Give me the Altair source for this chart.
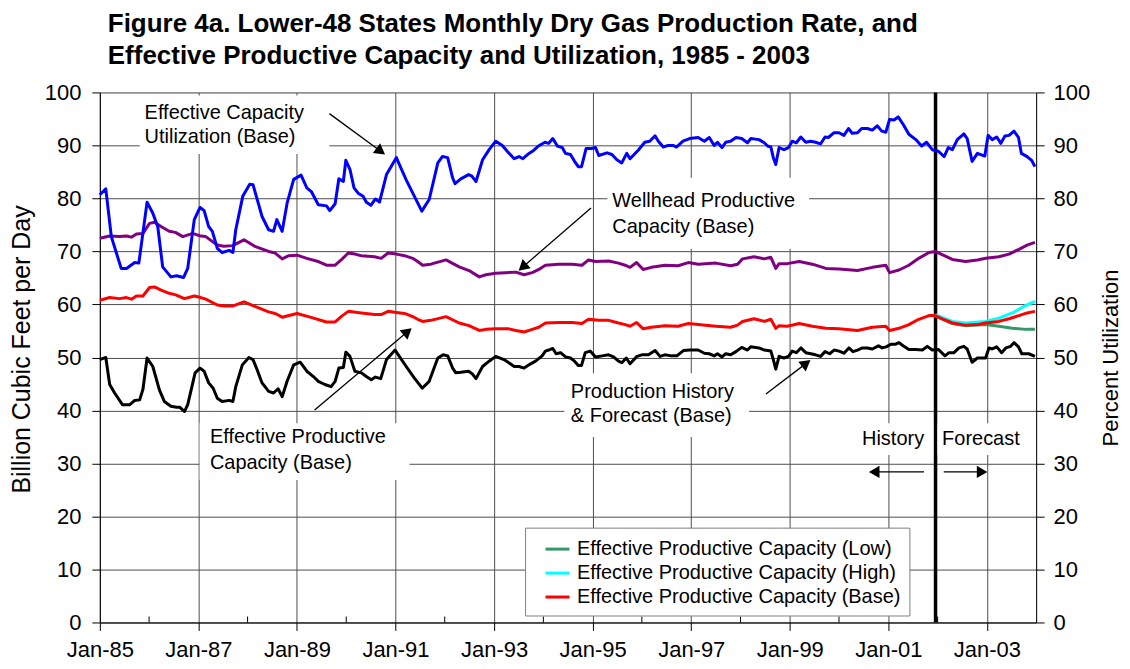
import math
import altair as alt
import pandas as pd

# ---------------------------------------------------------------------------
# Data: month offset from Jan-1985 (m) and value
# ---------------------------------------------------------------------------
UTIL_M = [0, 1.45, 2.8, 5.2, 6.5, 8.5, 9.5, 11.5, 12.9, 14.1, 15.3, 17.3, 18.7, 20.4, 21.4, 23.0,
          24.4, 25.4, 26.5, 27.4, 28.6, 29.8, 31.5, 32.4, 33.1, 34.8, 36.5, 37.3, 39.5, 41.1, 42.3,
          43.1, 44.4, 45.6, 47.2, 49.0, 50.4, 51.5, 53.2, 55.2, 56.0, 57.3, 58.2, 59.3, 59.9, 60.9,
          61.9, 62.9, 64.1, 64.9, 66.0, 67.1, 68.1, 69.8, 72.2, 74.6, 76.6, 78.4, 80.2, 82.3, 83.4,
          84.7, 85.9, 86.5, 87.9, 89.8, 90.6, 91.6, 93.2, 94.8, 96.4, 98.0, 99.2, 100.9, 102.1, 103.0,
          104.5, 105.7, 106.8, 108.4, 109.3, 110.3, 111.4, 112.6, 113.4, 114.6, 115.6, 116.5, 117.3,
          118.4, 119.7, 120.7, 121.5, 123.5, 124.7, 125.9, 127.1, 128.3, 129.1, 131.1, 132.7, 133.9,
          135.2, 136.0, 137.2, 138.4, 139.6, 140.4, 142.0, 143.6, 145.7, 147.2, 148.4, 149.6, 150.4,
          151.5, 152.4, 153.6, 154.9, 156.3, 157.7, 158.5, 160.5, 161.8, 162.6, 163.4, 164.0, 164.6,
          165.4, 166.6, 167.7, 168.6, 169.6, 170.7, 171.9, 173.1, 174.3, 175.5, 176.6, 177.4, 178.8,
          180.0, 181.2, 182.3, 183.2, 184.5, 185.5, 186.9, 188.1, 189.3, 190.4, 191.4, 192.3, 193.4,
          194.4, 195.6, 197.0, 198.7, 200.1, 201.3, 202.7, 204.2, 205.6, 206.6, 207.6, 208.8, 210.4,
          211.2, 212.4, 213.7, 215.5, 216.3, 217.3, 218.4, 219.4, 220.4, 221.4, 222.6, 223.7, 224.4,
          225.8, 226.9, 227.7]
UTIL_V = [80.7, 81.8, 72.8, 66.8, 66.8, 67.9, 67.8, 79.3, 77.2, 74.7, 67.1, 65.2, 65.4, 65.1, 66.8, 76.0,
          78.3, 77.7, 74.7, 73.8, 70.6, 69.8, 70.2, 69.8, 74.1, 80.4, 82.7, 82.6, 76.6, 74.1, 73.8,
          76.0, 73.8, 79.1, 83.6, 84.4, 82.0, 81.3, 78.8, 78.6, 77.7, 79.0, 83.7, 83.2, 87.2, 85.5,
          82.0, 81.0, 80.4, 79.3, 78.7, 79.9, 79.3, 84.5, 87.7, 83.5, 80.4, 77.6, 79.8, 86.7, 87.9,
          87.7, 83.9, 82.8, 83.7, 84.5, 84.2, 83.2, 87.3, 89.2, 90.8, 90.0, 88.9, 87.5, 87.9, 87.5,
          88.5, 89.1, 89.9, 90.6, 90.4, 91.3, 89.9, 89.6, 88.5, 88.3, 87.0, 86.0, 86.0,
          89.4, 89.4, 89.6, 88.1, 88.6, 88.3, 87.3, 86.7, 88.5, 87.5, 89.1, 90.6, 90.8,
          91.8, 90.8, 89.7, 90.0, 90.0, 89.7, 90.8, 91.3, 91.5, 90.8, 91.5, 90.0, 90.6,
          89.6, 90.6, 90.8, 91.5, 91.3, 90.5, 91.3, 91.1, 90.5, 89.9, 89.7, 87.7, 86.4,
          89.6, 89.2, 89.6, 90.8, 90.5, 91.6, 90.6, 90.8, 90.6, 90.3, 91.6, 91.5, 92.4,
          92.4, 91.9, 93.2, 92.3, 92.4, 93.2, 93.2, 92.9, 93.7, 92.7, 92.5, 94.9, 94.8,
          95.4, 94.0, 92.1, 91.1, 89.9, 90.6, 89.2, 88.9, 87.9, 89.6, 89.2, 91.1, 92.2,
          91.3, 87.0, 88.5, 88.0, 91.9, 91.1, 91.6, 90.4, 91.8, 91.9, 92.7, 91.5, 88.5,
          87.9, 87.2, 86.0]

WELL_M = [0, 2.4, 4.8, 6.5, 7.7, 8.9, 10.5, 12.1, 13.3, 14.9, 16.9, 18.4, 20.2, 22.6, 24.6, 25.8,
          28.6, 30.2, 32.3, 35.1, 37.9, 41.1, 42.7, 44.4, 46.0, 48.0, 50.4, 53.2, 55.2, 57.3, 58.9,
          60.5, 62.1, 63.7, 66.9, 68.5, 70.2, 72.2, 74.2, 76.2, 77.4, 78.6, 80.6, 84.3, 87.5, 89.9,
          92.4, 94.0, 96.4, 98.8, 101.3, 103.3, 105.3, 106.9, 108.5, 111.8, 115.0, 117.4, 119.0,
          120.7, 123.9, 126.3, 127.9, 129.1, 130.7, 132.3, 134.3, 137.6, 140.8, 143.3, 145.7, 150.0,
          153.6, 155.3, 156.5, 159.3, 161.8, 163.4, 164.6, 165.4, 167.4, 170.3, 173.5, 176.8, 180.0,
          184.5, 188.1, 191.4, 192.3, 194.6, 197.0, 199.4, 201.9, 203.4, 205.1, 207.6, 210.8, 213.7,
          215.7, 218.9, 221.4, 223.8, 225.8, 227.7]
WELL_V = [72.5, 72.9, 72.8, 72.9, 72.7, 73.3, 73.4, 75.3, 75.5, 74.7, 73.8, 73.6, 72.8, 73.4, 72.9, 72.8,
          71.2, 71.0, 71.1, 72.2, 70.9, 70.0, 69.7, 68.6, 69.2, 69.3, 68.7, 68.1, 67.4, 67.4, 68.5,
          69.7, 69.5, 69.2, 69.0, 68.7, 69.7, 69.5, 69.2, 68.7, 68.1, 67.4, 67.6, 68.4, 67.1, 66.4,
          65.2, 65.6, 65.9, 66.0, 66.1, 65.6, 66.0, 66.6, 67.4, 67.6, 67.6, 67.4, 68.4,
          68.1, 68.2, 67.8, 67.4, 67.0, 67.9, 66.6, 67.0, 67.4, 67.3, 67.9, 67.6, 67.8,
          67.3, 67.6, 68.6, 69.0, 68.6, 68.9, 66.8, 67.7, 67.7, 68.1, 67.6, 66.8, 66.7,
          66.4, 67.0, 67.4, 66.0, 66.5, 67.4, 68.7, 69.8, 70.0, 69.4, 68.5, 68.1, 68.4,
          68.7, 69.0, 69.5, 70.4, 71.2, 71.7]

BASE_M = [0, 2.4, 4.8, 6.5, 7.7, 8.9, 10.5, 12.1, 13.3, 14.9, 16.9, 18.5, 20.6, 23.0, 24.6, 25.8,
          28.6, 30.2, 32.3, 35.1, 37.9, 41.1, 42.7, 44.4, 48.0, 50.8, 55.2, 57.3, 58.9, 60.5, 63.7,
          66.9, 68.5, 70.2, 72.2, 74.2, 76.2, 77.4, 78.6, 80.6, 84.3, 87.5, 89.9, 92.4, 94.0, 96.4,
          99.6, 101.3, 103.3, 105.3, 106.9, 108.5, 111.8, 115.0, 117.4, 119.0, 121.5, 123.9, 126.3,
          127.9, 129.1, 130.7, 132.3, 134.3, 137.6, 140.8, 143.3, 145.7, 150.0, 153.6, 155.3, 156.5,
          159.3, 161.8, 163.4, 164.6, 165.4, 167.4, 170.3, 173.5, 176.8, 180.0, 184.5, 188.1, 191.4,
          192.3, 194.6, 197.0, 199.4, 201.9, 203.4, 205.1, 207.6, 210.8, 213.7, 215.7, 218.9, 221.4,
          223.8, 225.8, 227.7]
BASE_V = [60.8, 61.3, 61.1, 61.3, 61.0, 61.6, 61.6, 63.2, 63.3, 62.7, 62.1, 61.8, 61.1, 61.6, 61.3, 61.0,
          59.9, 59.7, 59.7, 60.5, 59.6, 58.6, 58.3, 57.6, 58.3, 57.7, 56.7, 56.7, 57.8, 58.7, 58.4,
          58.1, 58.1, 58.7, 58.5, 58.3, 57.7, 57.2, 56.8, 57.0, 57.7, 56.5, 56.0, 55.1, 55.3, 55.4,
          55.4, 55.1, 54.8, 55.3, 55.7, 56.5, 56.6, 56.6, 56.4, 57.2, 57.0, 57.0, 56.5,
          56.2, 55.9, 56.6, 55.4, 55.7, 56.0, 55.9, 56.4, 56.2, 55.9, 55.7, 56.1, 56.8,
          57.3, 56.8, 57.2, 55.5, 56.0, 55.9, 56.4, 55.9, 55.5, 55.4, 55.1, 55.7, 55.9,
          55.1, 55.5, 56.2, 57.2, 57.9, 57.9, 57.3, 56.5, 56.1, 56.2, 56.5, 56.8, 57.3,
          57.9, 58.4, 58.7]

HIGH_M = [203.4, 207.6, 210.8, 215.7, 218.9, 222.2, 225.4, 227.7]
HIGH_V = [58.1, 56.8, 56.5, 56.8, 57.4, 58.4, 59.8, 60.6]
LOW_M = [203.4, 207.6, 210.8, 215.7, 218.9, 222.2, 225.4, 227.7]
LOW_V = [57.9, 56.4, 56.0, 56.2, 55.9, 55.5, 55.3, 55.3]

PROD_M = [0, 1.45, 2.4, 3.6, 5.5, 7.3, 8.5, 9.7, 10.5, 11.5, 12.9, 14.5, 15.7, 17.3, 18.7, 19.5,
          20.6, 21.4, 23.2, 24.4, 25.4, 26.5, 27.6, 28.6, 29.8, 31.5, 32.4, 33.1, 34.7, 36.3, 37.3,
          38.3, 39.5, 41.1, 42.3, 43.4, 44.4, 45.6, 47.2, 48.8, 50.4, 52.0, 53.2, 54.8, 56.3, 57.3,
          58.2, 59.3, 59.9, 60.9, 62.1, 63.7, 64.9, 66.1, 67.1, 68.4, 69.8, 71.9, 74.6, 76.6, 78.5,
          80.2, 82.3, 83.6, 84.7, 85.9, 86.7, 87.9, 89.8, 90.7, 91.6, 93.2, 94.8, 96.4, 98.4, 99.6,
          100.9, 102.1, 103.3, 104.9, 106.1, 107.7, 108.5, 109.3, 110.3, 111.1, 112.2, 113.4, 114.6,
          115.6, 116.5, 117.3, 118.2, 119.4, 120.7, 122.3, 123.9, 125.1, 126.3, 127.1, 128.2, 129.1,
          130.8, 132.0, 133.6, 135.2, 136.4, 137.6, 139.2, 140.5, 142.1, 143.7, 145.7, 147.2, 148.4,
          149.6, 150.4, 151.5, 152.4, 153.6, 154.9, 156.3, 157.7, 158.5, 160.5, 161.8, 163.4, 164.0,
          164.6, 165.4, 166.6, 167.7, 168.6, 169.6, 170.7, 171.9, 173.1, 174.3, 175.5, 176.6, 177.7,
          178.8, 180.0, 181.2, 182.4, 183.4, 184.5, 185.7, 186.9, 188.1, 189.6, 190.5, 191.5, 192.6,
          193.8, 194.6, 195.6, 197.0, 198.7, 200.3, 201.5, 202.7, 204.2, 205.8, 206.8, 208.0, 209.2,
          210.4, 211.2, 212.4, 213.7, 215.7, 216.5, 217.3, 218.4, 219.6, 220.6, 221.8, 222.6, 223.7,
          224.5, 226.2, 227.7]
PROD_V = [49.6, 50.0, 44.9, 43.3, 41.1, 41.1, 41.9, 42.0, 44.0, 49.9, 48.3, 43.9, 41.7, 40.8, 40.6, 40.6,
          39.8, 41.1, 47.1, 48.0, 47.4, 45.2, 44.2, 42.3, 41.7, 41.9, 41.7, 44.5, 48.6, 50.0, 49.6,
          47.7, 45.2, 43.6, 43.3, 44.1, 42.6, 45.5, 48.6, 49.1, 47.4, 46.4, 45.5, 44.9, 44.5, 45.5,
          48.0, 48.1, 51.0, 50.2, 47.4, 47.1, 46.4, 45.8, 46.3, 46.0, 49.6, 51.4, 48.3, 46.1, 44.2,
          45.5, 49.9, 50.5, 50.3, 48.0, 47.1, 47.2, 47.4, 46.9, 46.0, 48.3, 49.3, 50.2, 49.6, 49.0,
          48.3, 48.3, 48.0, 48.8, 49.3, 50.3, 51.2, 51.4, 51.7, 50.7, 50.9, 50.1, 49.9,
          49.3, 48.5, 48.5, 50.9, 51.2, 50.1, 50.3, 50.5, 50.1, 49.3, 49.0, 49.9, 48.8,
          50.2, 50.5, 50.5, 51.3, 50.2, 50.5, 50.3, 50.3, 51.3, 51.4, 51.4, 50.8, 50.7,
          50.3, 50.7, 50.1, 50.7, 50.5, 51.1, 51.9, 51.4, 52.0, 51.8, 51.4, 51.2, 49.6,
          47.8, 50.2, 49.9, 50.2, 51.2, 50.9, 51.8, 50.9, 50.7, 50.5, 50.2, 51.1, 50.7,
          51.4, 51.2, 50.8, 51.8, 51.1, 51.4, 51.8, 51.8, 51.6, 52.2, 51.8, 52.0, 52.5,
          52.5, 52.8, 52.2, 51.5, 51.5, 51.4, 52.1, 51.4, 51.5, 50.3, 50.9, 50.9, 51.8,
          52.1, 51.6, 49.1, 49.9, 49.9, 51.8, 51.6, 52.0, 50.9, 51.8, 52.1, 52.8, 52.0,
          50.7, 50.7, 50.2]

FORECAST_START_M = 203.5
X_TICK_YEARS = list(range(1985, 2004, 2))
MINOR_TICK_YEARS = list(range(1986, 2003, 2))
Y_TICKS = list(range(0, 101, 10))

SERIES_LOW = "Effective Productive Capacity (Low)"
SERIES_HIGH = "Effective Productive Capacity (High)"
SERIES_BASE = "Effective Productive Capacity (Base)"

TITLE_LINES = ["Figure 4a.  Lower-48 States Monthly Dry Gas Production Rate, and",
               "Effective Productive Capacity and Utilization, 1985 - 2003"]

# annotations (month offset, value)
NOTE_TEXT = ["Effective Capacity", "Utilization (Base)", "Wellhead Productive", "Capacity (Base)",
             "Effective Productive", "Capacity (Base)", "Production History", "& Forecast (Base)",
             "History", "Forecast"]
NOTE_M = [10.9, 10.9, 124.8, 124.8, 26.8, 26.8, 114.7, 114.7, 185.6, 205.1]
NOTE_V = [96.2, 91.5, 79.6, 74.7, 35.0, 30.1, 43.5, 38.9, 34.6, 34.6]

BOX_M1 = [9.7, 123.6, 24.3, 113.1, 184.4, 204.0]
BOX_M2 = [55.9, 172.7, 75.4, 158.1, 202.9, 226.2]
BOX_V1 = [99.4, 83.9, 37.6, 47.0, 37.6, 37.6]
BOX_V2 = [88.4, 70.5, 26.9, 35.0, 31.6, 31.6]

ARROW_M1 = [55.9, 119.6, 52.3, 162.2, 200.7, 205.5]
ARROW_V1 = [96.0, 78.2, 40.1, 43.1, 28.4, 28.4]
ARROW_M2 = [69.1, 102.3, 75.6, 172.7, 187.7, 215.7]
ARROW_V2 = [88.5, 66.6, 55.3, 49.3, 28.4, 28.4]

# ---------------------------------------------------------------------------
FONT = "Liberation Sans"
W, H = 938, 531
NMONTHS = 228
DAYS_PER_MONTH = 6939 / 228
START = pd.Timestamp("1985-01-01")
PPM = W / NMONTHS     # px per month
PPU = H / 100.0       # px per unit
HEAD = 150            # arrow head symbol area


def mdate(m):
    return (START + pd.Timedelta(days=float(m) * DAYS_PER_MONTH)).strftime("%Y-%m-%dT%H:%M:%S")


def series_df(ms, vs, name=None):
    d = pd.DataFrame({"date": [mdate(m) for m in ms], "v": vs})
    if name is not None:
        d["series"] = name
    return d


XS = alt.Scale(domain=[alt.DateTime(year=1985, month=1, date=1),
                       alt.DateTime(year=2004, month=1, date=1)], nice=False)
YS = alt.Scale(domain=[0, 100], nice=False, zero=True)

XAX = alt.Axis(values=[alt.DateTime(year=y, month=1, date=1) for y in X_TICK_YEARS],
               format="%b-%y", title=None, labelFont=FONT, labelFontSize=22, labelColor="black",
               labelPadding=9, labelFlush=False, labelOverlap=False, tickSize=8, tickColor="black",
               domainColor="black", grid=True, gridColor="#4d4d4d", gridWidth=1)
YAX_L = alt.Axis(values=Y_TICKS, title="Billion Cubic Feet per Day", titleFont=FONT,
                 titleFontSize=25, titleFontWeight="normal", titleColor="black", titlePadding=10,
                 titleY=257,
                 labelFont=FONT, labelFontSize=22, labelColor="black", labelPadding=11,
                 labelFlush=False, tickSize=8, tickColor="black", domainColor="black",
                 grid=True, gridColor="#4d4d4d", gridWidth=1)
YAX_R = alt.Axis(orient="right", values=Y_TICKS, title="Percent Utilization", titleFont=FONT,
                 titleFontSize=22, titleFontWeight="normal", titleColor="black", titlePadding=11,
                 titleAngle=270, titleBaseline="top",
                 labelFont=FONT, labelFontSize=22, labelColor="black", labelPadding=9,
                 labelFlush=False, tickSize=8, tickColor="black", domainColor="black", grid=False)


def X(f="date"):
    return alt.X(f"{f}:T", scale=XS, axis=XAX)


def YL(f="v"):
    return alt.Y(f"{f}:Q", scale=YS, axis=YAX_L)


CS = alt.Scale(domain=[SERIES_LOW, SERIES_HIGH, SERIES_BASE], range=["#339966", "#00FFFF", "#FF0000"])
LEG = alt.Legend(title=None, orient="none", legendX=426, legendY=436, symbolType="stroke",
                 symbolStrokeWidth=3, symbolSize=576, labelFont=FONT, labelFontSize=20,
                 labelColor="black", labelOffset=6, labelLimit=500, padding=8, symbolOffset=11,
                 rowPadding=0, fillColor="white", strokeColor="#808080")

# ---- layers ----
vline_df = pd.DataFrame({"date": [mdate(FORECAST_START_M)], "lo": [0], "hi": [100]})
vline = alt.Chart(vline_df).mark_rule(color="black", strokeWidth=3.5).encode(
    x=X(), y=YL("lo"), y2="hi")

box_df = pd.DataFrame({"d1": [mdate(m) for m in BOX_M1], "d2": [mdate(m) for m in BOX_M2],
                       "v1": BOX_V1, "v2": BOX_V2})
boxes = alt.Chart(box_df).mark_rect(color="white", opacity=1).encode(
    x=X("d1"), x2="d2", y=YL("v1"), y2="v2")

minor_df = pd.DataFrame({"date": [f"{y}-01-01T00:00:00" for y in MINOR_TICK_YEARS],
                         "lo": 0.0, "hi": 6 / PPU})
minor = alt.Chart(minor_df).mark_rule(color="black", strokeWidth=1).encode(
    x=X(), y=YL("lo"), y2="hi")

fc_df = pd.concat([series_df(LOW_M, LOW_V, SERIES_LOW), series_df(HIGH_M, HIGH_V, SERIES_HIGH)])
forecast = alt.Chart(fc_df).mark_line(strokeWidth=3, strokeJoin="round").encode(
    x=X(), y=YL(), color=alt.Color("series:N", scale=CS, legend=LEG), detail="series:N")

base = alt.Chart(series_df(BASE_M, BASE_V, SERIES_BASE)).mark_line(
    strokeWidth=3, strokeJoin="round").encode(
    x=X(), y=YL(), color=alt.Color("series:N", scale=CS, legend=LEG))

well = alt.Chart(series_df(WELL_M, WELL_V)).mark_line(
    color="#800080", strokeWidth=3, strokeJoin="round").encode(x=X(), y=YL())

prod = alt.Chart(series_df(PROD_M, PROD_V)).mark_line(
    color="black", strokeWidth=3, strokeJoin="round").encode(x=X(), y=YL())

# arrows
h = math.sqrt(3) / 2 * math.sqrt(HEAD)
rows = []
for m1, v1, m2, v2 in zip(ARROW_M1, ARROW_V1, ARROW_M2, ARROW_V2):
    dx = (m2 - m1) * PPM
    dy = -(v2 - v1) * PPU
    L = math.hypot(dx, dy)
    ux, uy = dx / L, dy / L
    cm = m2 - ux * (h / 2) / PPM
    cv = v2 + uy * (h / 2) / PPU
    ang = math.degrees(math.atan2(dx, -dy)) % 360
    rows.append({"d1": mdate(m1), "v1": v1, "d2": mdate(cm), "v2": cv, "ang": ang})
arrow_df = pd.DataFrame(rows)
arrow_lines = alt.Chart(arrow_df).mark_rule(color="black", strokeWidth=1.3).encode(
    x=X("d1"), x2="d2", y=YL("v1"), y2="v2")
arrow_heads = alt.Chart(arrow_df).mark_point(
    shape="triangle", filled=True, size=HEAD, color="black", opacity=1).encode(
    x=X("d2"), y=YL("v2"), angle=alt.Angle("ang:Q", scale=None))

note_df = pd.DataFrame({"date": [mdate(m) for m in NOTE_M], "v": NOTE_V, "t": NOTE_TEXT})
notes = alt.Chart(note_df).mark_text(
    align="left", baseline="middle", font=FONT, fontSize=20, color="black").encode(
    x=X(), y=YL(), text="t:N")

left = alt.layer(vline, boxes, minor, forecast, base, well, prod, arrow_lines, arrow_heads, notes)

util = alt.Chart(series_df(UTIL_M, UTIL_V)).mark_line(
    color="#0000FF", strokeWidth=3, strokeJoin="round").encode(
    x=X(), y=alt.Y("v:Q", scale=YS, axis=YAX_R))

chart = alt.layer(left, util).resolve_scale(y="independent").properties(
    width=W, height=H,
    autosize=alt.AutoSizeParams(type="none"),
    padding={"left": 92, "top": 84, "right": 86, "bottom": 40},
    title=alt.TitleParams(text=TITLE_LINES, anchor="start", frame="group", dx=8, offset=12,
                          font=FONT, fontSize=26, fontWeight="bold", color="black",
                          lineHeight=33),
).configure_view(stroke=None).configure(background="white")

chart.save("out.html", embed_options={"renderer": "svg", "actions": False})
